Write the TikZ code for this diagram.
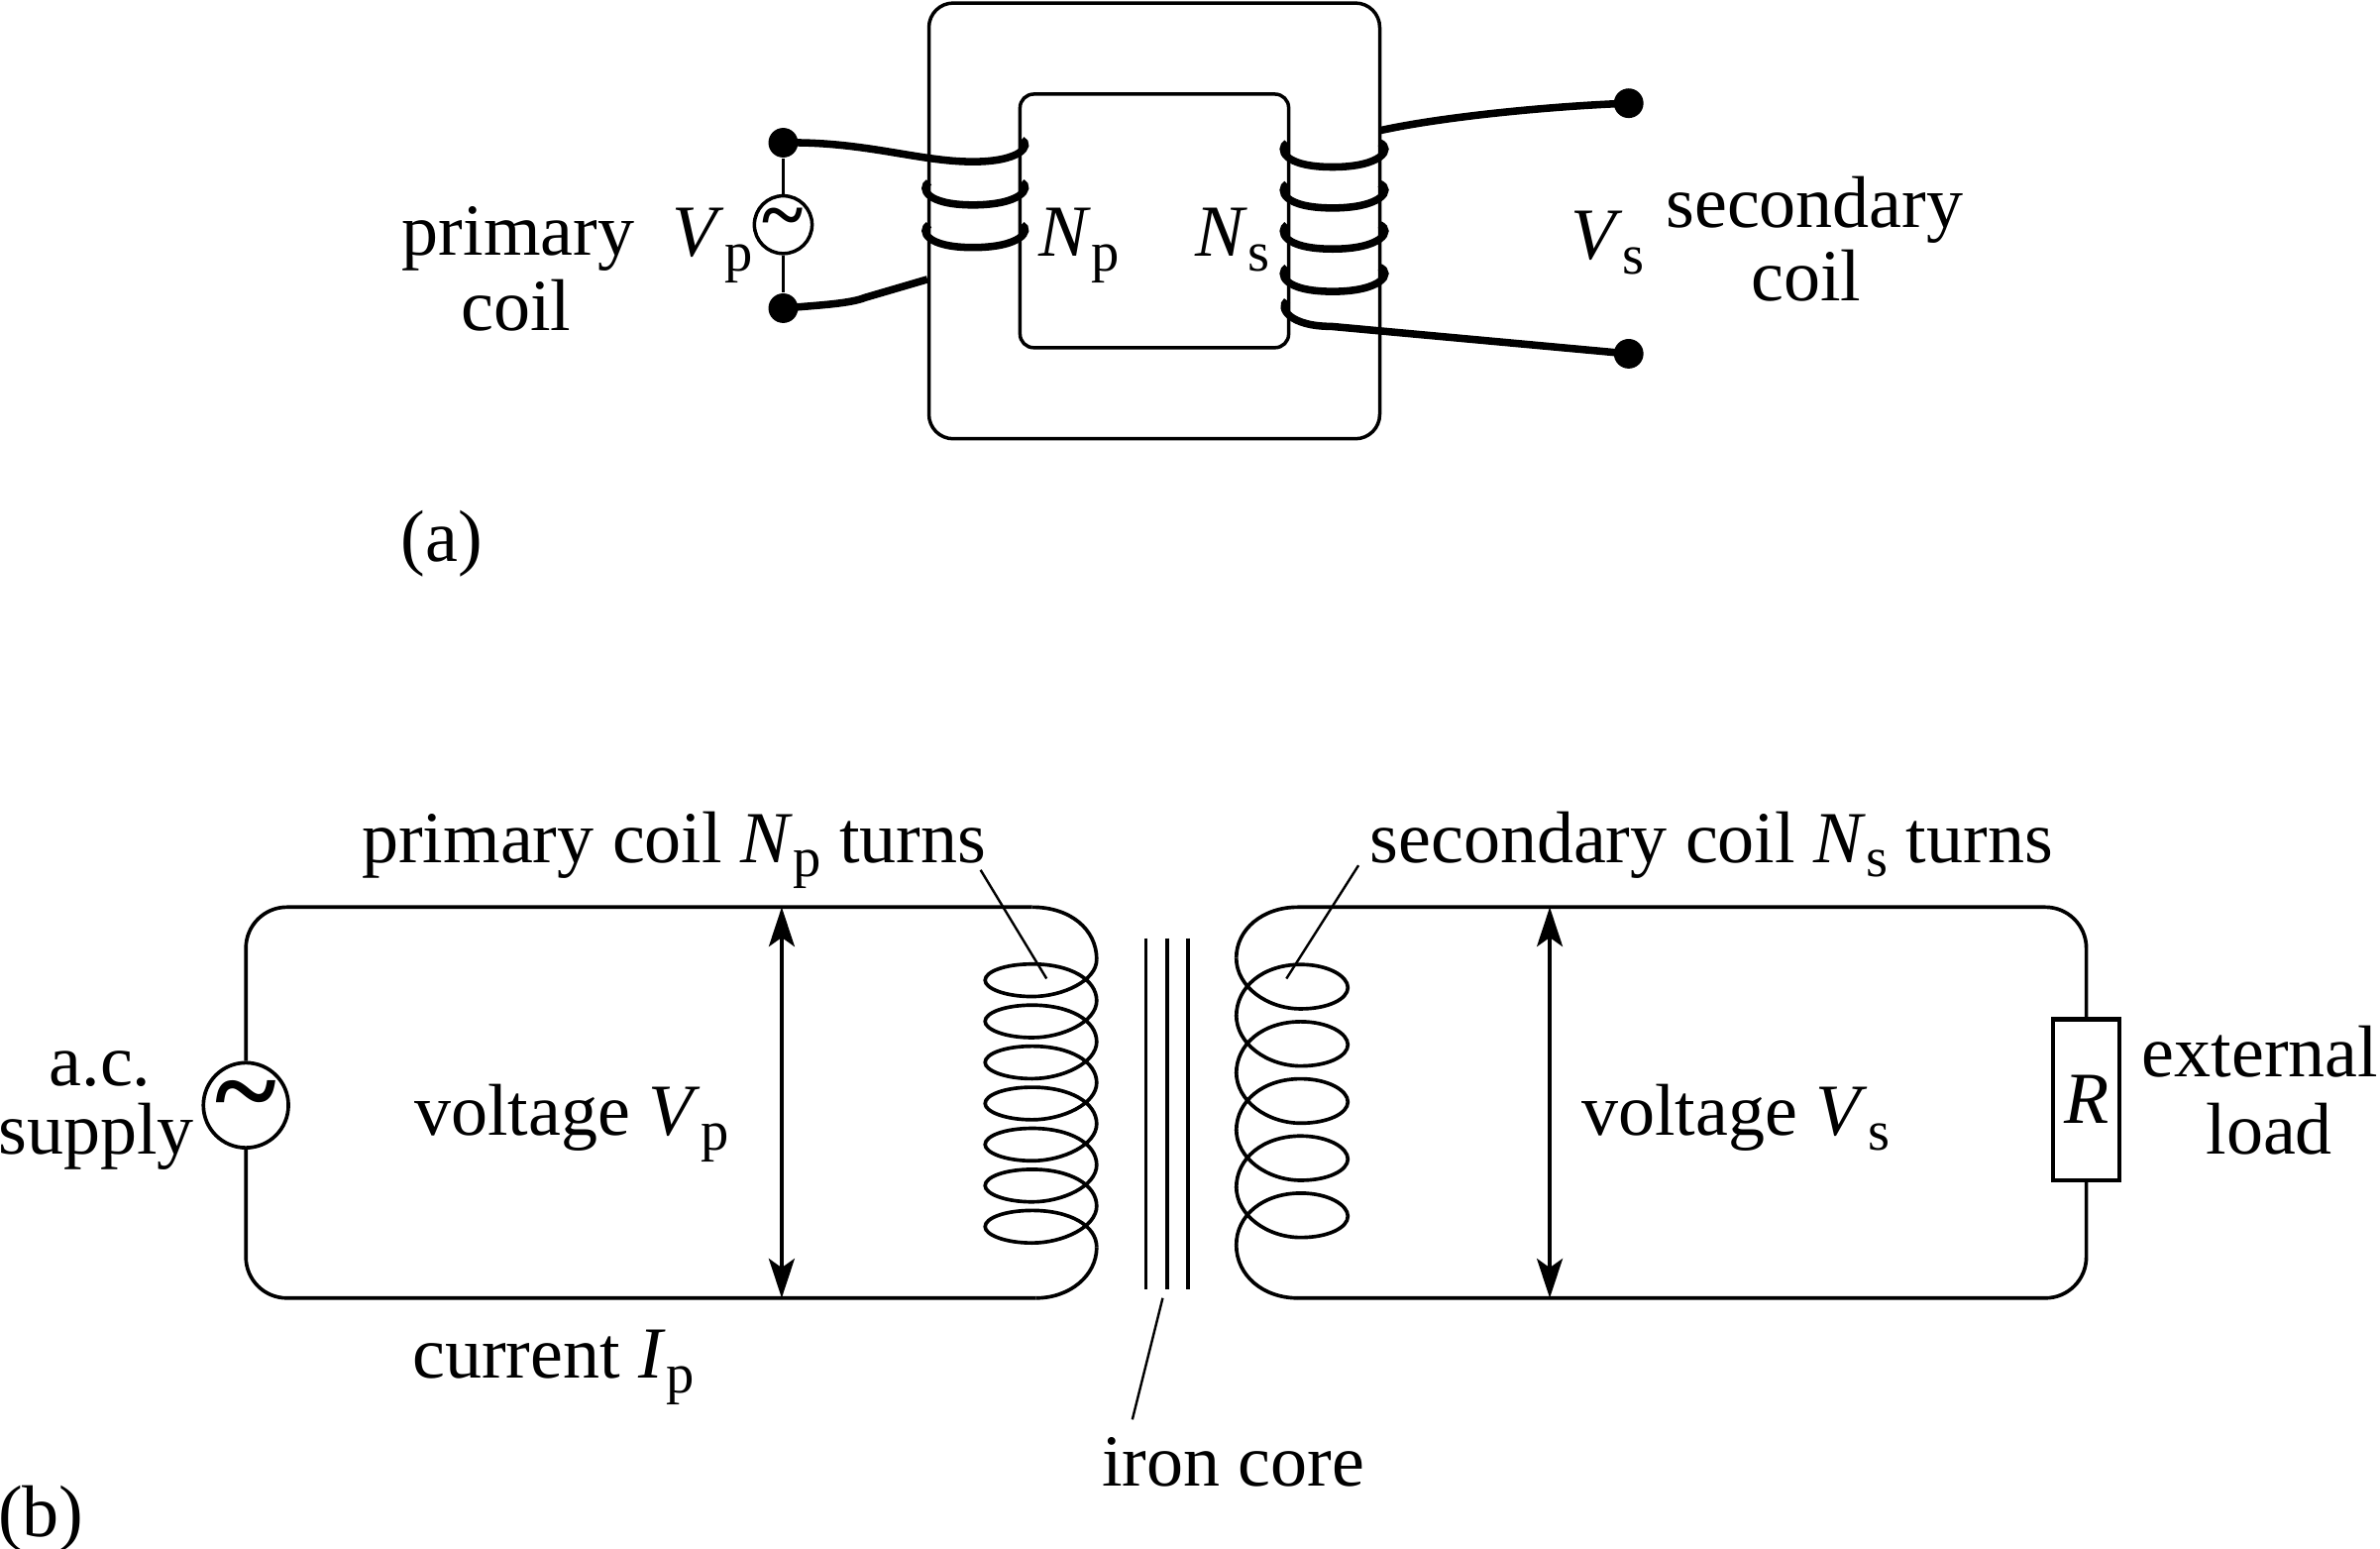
\documentclass[tikz,border=0pt]{standalone}
\usepackage{fontspec}
\setmainfont{Liberation Serif}
\usetikzlibrary{positioning,arrows.meta}
\tikzset{
    >=Stealth,
    every node/.style={font=\fontsize{13.75}{13.75}\selectfont}
}
\newcommand{\itvar}[1]{\textit{#1}}
\newcommand{\lowsub}[1]{\raisebox{-0.2em}{\fontsize{10.5}{10.5}\selectfont #1}}

\begin{document}
\begin{tikzpicture}
  % common styles
  \tikzset{
    fineline/.style={line width=0.68pt},
    coreline/.style={line width=0.65pt,rounded corners=0.16cm},
    wireline/.style={line width=1.4pt},
    leaderline/.style={line width=0.45pt},
    termdot/.style={circle,fill=black,inner sep=0pt,minimum size=0.195cm},
    srcsmall/.style={circle,draw,fill=white,line width=0.65pt,inner sep=0pt,minimum size=0.38cm,font=\fontsize{14.7}{14.7}\selectfont\bfseries},
    srcbig/.style={circle,draw,fill=white,line width=0.68pt,inner sep=0pt,minimum size=0.56cm,font=\fontsize{22}{22}\selectfont\bfseries},
    txt/.style={anchor=base,inner sep=0pt},
    voltarrow/.style={{Stealth[length=0.26cm,width=0.17cm,inset=0.06cm]}-{Stealth[length=0.26cm,width=0.17cm,inset=0.06cm]},line width=0.6pt}
  }
  \useasboundingbox (0,0) rectangle (15.68,-10.197);

  % (a) iron core
  \draw[coreline] (6.12,-0.02) rectangle (9.09,-2.89);
  \draw[coreline,rounded corners=0.09cm] (6.72,-0.62) rectangle (8.49,-2.29);

  % (a) terminals and supply
  \node[termdot] (dotP1) at (5.16,-0.94) {};
  \node[termdot] (dotP2) at (5.16,-2.03) {};
  \node[termdot] (dotS1) at (10.73,-0.68) {};
  \node[termdot] (dotS2) at (10.73,-2.33) {};
  \node[srcsmall] (srcA) at (5.16,-1.48) {\raisebox{-0.22em}{\textasciitilde}};
  \draw[fineline] (dotP1) -- (srcA);
  \draw[fineline] (srcA) -- (dotP2);

  % (a) primary winding
  \draw[wireline] (dotP1.center) .. controls (5.70,-0.93) and (6.05,-1.065) .. (6.41,-1.065)
    .. controls (6.72,-1.065) and (6.80,-0.96) .. (6.73,-0.92);
  \foreach \dy in {0,0.28}
    \draw[wireline,yshift=-\dy cm] (6.12,-1.20) .. controls (6.06,-1.24) and (6.10,-1.35) .. (6.41,-1.35)
      .. controls (6.72,-1.35) and (6.80,-1.24) .. (6.73,-1.20);
  \draw[wireline] (dotP2.center) .. controls (5.40,-2.01) and (5.60,-2.00) .. (5.70,-1.96) -- (6.11,-1.84);

  % (a) secondary winding
  \draw[wireline] (9.09,-0.86) .. controls (9.50,-0.77) and (10.2,-0.70) .. (dotS1.center);
  \foreach \dy in {0,0.27,0.54,0.82}
    \draw[wireline,yshift=-\dy cm] (8.48,-0.94) .. controls (8.42,-0.98) and (8.45,-1.10) .. (8.78,-1.10)
      .. controls (9.10,-1.10) and (9.18,-0.98) .. (9.09,-0.94);
  \draw[wireline] (8.48,-1.98) .. controls (8.42,-2.03) and (8.50,-2.15) .. (8.77,-2.15) -- (dotS2.center);

  % (a) labels
  \node[txt] (primA) at (3.415,-1.68) {primary};
  \node[txt] (coilA) at (3.40,-2.18) {coil};
  \node[txt] (vpA) at (4.695,-1.69) {\itvar{V}\lowsub{p}};
  \node[txt] (npA) at (7.11,-1.69) {\itvar{N}\lowsub{p}};
  \node[txt] (nsA) at (8.12,-1.69) {\itvar{N}\lowsub{s}};
  \node[txt] (vsA) at (10.59,-1.71) {\itvar{V}\lowsub{s}};
  \node[txt] (secA) at (11.955,-1.50) {secondary};
  \node[txt] (coilS) at (11.90,-1.98) {coil};
  \node[txt] (capA) at (2.91,-3.70) {(a)};

  % (b) supply, load and loop ends
  \node[srcbig] (srcB) at (1.62,-7.28) {\raisebox{-0.22em}{\textasciitilde}};
  \node[draw,line width=0.8pt,inner sep=0pt,minimum width=0.44cm,minimum height=1.06cm] (loadR) at (13.745,-7.243) {\itvar{R}};
  \coordinate (pTop) at (6.80,-5.975);
  \coordinate (pBot) at (6.825,-8.55);
  \coordinate (sTop) at (8.55,-5.975);
  \coordinate (sBot) at (8.55,-8.55);
  \draw[fineline,rounded corners=0.27cm] (srcB) |- (pTop);
  \draw[fineline,rounded corners=0.27cm] (srcB) |- (pBot);
  \draw[fineline,rounded corners=0.27cm] (sTop) -| (loadR);
  \draw[fineline,rounded corners=0.27cm] (sBot) -| (loadR);

  % (b) primary coil, seven turns
  \draw[fineline] (pTop) .. controls (7.05,-5.975) and (7.225,-6.12) .. (7.225,-6.32);
  \foreach \turn in {0,...,6}
    \draw[fineline,yshift=-\turn*0.2705cm] (7.225,-6.32) .. controls (7.225,-6.46) and (7.00,-6.564) .. (6.80,-6.564)
      .. controls (6.62,-6.564) and (6.49,-6.51) .. (6.49,-6.457)
      .. controls (6.49,-6.40) and (6.62,-6.35) .. (6.80,-6.35)
      .. controls (7.05,-6.35) and (7.225,-6.45) .. (7.225,-6.593);
  \draw[fineline] (7.225,-8.216) .. controls (7.225,-8.40) and (7.05,-8.55) .. (pBot);

  % (b) secondary coil, five turns
  \draw[fineline] (sTop) .. controls (8.32,-5.975) and (8.145,-6.12) .. (8.145,-6.31);
  \foreach \turn in {0,...,4}
    \draw[fineline,yshift=-\turn*0.3765cm] (8.145,-6.31) .. controls (8.145,-6.50) and (8.35,-6.645) .. (8.57,-6.645)
      .. controls (8.75,-6.645) and (8.88,-6.58) .. (8.88,-6.505)
      .. controls (8.88,-6.43) and (8.75,-6.353) .. (8.57,-6.353)
      .. controls (8.32,-6.353) and (8.145,-6.50) .. (8.145,-6.695);
  \draw[fineline] (8.145,-8.20) .. controls (8.145,-8.40) and (8.32,-8.55) .. (sBot);

  % (b) iron core
  \foreach \x/\name in {7.55/coreL,7.69/coreM,7.825/coreR}{
    \coordinate (\name T) at (\x,-6.18);
    \coordinate (\name B) at (\x,-8.494);
    \draw[fineline] (\name T) -- (\name B);
  }

  % (b) voltage arrows
  \coordinate (vpT) at (5.15,-5.975);
  \coordinate (vpB) at (5.15,-8.55);
  \coordinate (vsT) at (10.21,-5.975);
  \coordinate (vsB) at (10.21,-8.55);
  \draw[voltarrow] (vpT) -- (vpB);
  \draw[voltarrow] (vsT) -- (vsB);

  % (b) labels
  \node[txt] (acB) at (0.66,-7.15) {a.c.};
  \node[txt] (supB) at (0.635,-7.60) {supply};
  \node[txt] (pcB) at (4.44,-5.68) {primary coil \itvar{N}\lowsub{p} turns};
  \node[txt] (scB) at (11.275,-5.68) {secondary coil \itvar{N}\lowsub{s} turns};
  \node[txt] (vpB1) at (3.765,-7.48) {voltage \itvar{V}\lowsub{p}};
  \node[txt] (vsB1) at (11.435,-7.48) {voltage \itvar{V}\lowsub{s}};
  \node[txt] (extB) at (14.89,-7.09) {external};
  \node[txt] (loadB) at (14.95,-7.60) {load};
  \node[txt] (curB) at (3.645,-9.08) {current \itvar{I}\lowsub{p}};
  \node[txt] (ironB) at (8.125,-9.79) {iron core};
  \node[txt] (capB) at (0.27,-10.12) {(b)};

  % (b) leader lines
  \coordinate (pcEnd) at (6.895,-6.446);
  \coordinate (scEnd) at (8.475,-6.446);
  \coordinate (ironEnd) at (7.66,-8.55);
  \draw[leaderline] (6.46,-5.73) -- (pcEnd);
  \draw[leaderline] (8.95,-5.70) -- (scEnd);
  \draw[leaderline] (ironEnd) -- (7.46,-9.35);
\end{tikzpicture}
\end{document}
